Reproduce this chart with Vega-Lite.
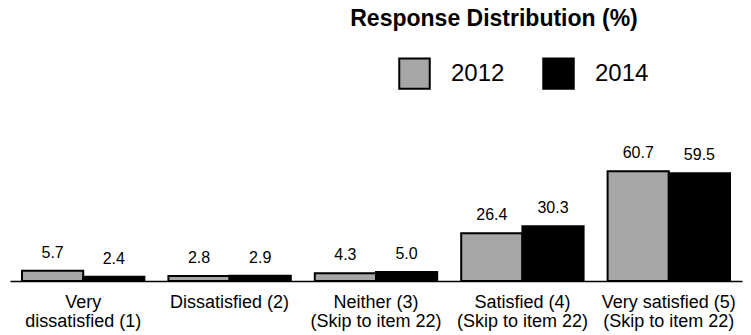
{
  "$schema": "https://vega.github.io/schema/vega-lite/v6.json",
  "width": 732,
  "height": 181,
  "autosize": {"type": "none"},
  "padding": {"left": 10, "top": 100, "right": 9, "bottom": 54},
  "background": "white",
  "title": {
    "text": "Response Distribution (%)",
    "font": "Liberation Sans",
    "fontSize": 23,
    "fontWeight": "bold",
    "color": "black",
    "anchor": "middle",
    "dx": 118,
    "offset": 26
  },
  "data": {
    "values": [
      {"cat": "Very|dissatisfied (1)", "year": "2012", "pct": 5.7},
      {"cat": "Very|dissatisfied (1)", "year": "2014", "pct": 2.4},
      {"cat": "Dissatisfied (2)", "year": "2012", "pct": 2.8},
      {"cat": "Dissatisfied (2)", "year": "2014", "pct": 2.9},
      {"cat": "Neither (3)|(Skip to item 22)", "year": "2012", "pct": 4.3},
      {"cat": "Neither (3)|(Skip to item 22)", "year": "2014", "pct": 5.0},
      {"cat": "Satisfied (4)|(Skip to item 22)", "year": "2012", "pct": 26.4},
      {"cat": "Satisfied (4)|(Skip to item 22)", "year": "2014", "pct": 30.3},
      {"cat": "Very satisfied (5)|(Skip to item 22)", "year": "2012", "pct": 60.7},
      {"cat": "Very satisfied (5)|(Skip to item 22)", "year": "2014", "pct": 59.5}
    ]
  },
  "encoding": {
    "x": {
      "field": "cat",
      "type": "nominal",
      "sort": null,
      "scale": {"paddingInner": 0.164, "paddingOuter": 0.082},
      "axis": {
        "title": null,
        "labelAngle": 0,
        "labelExpr": "split(datum.value, '|')",
        "labelFont": "Liberation Sans",
        "labelFontSize": 18,
        "labelColor": "black",
        "labelLineHeight": 19,
        "labelPadding": 12,
        "labelBaseline": "top",
        "labelOverlap": false,
        "labelBound": false,
        "ticks": false,
        "domainColor": "black",
        "domainWidth": 1.5,
        "grid": false
      }
    },
    "xOffset": {"field": "year", "type": "nominal", "scale": {"paddingInner": 0, "paddingOuter": 0}},
    "y": {
      "field": "pct",
      "type": "quantitative",
      "scale": {"domain": [0, 100]},
      "axis": null
    }
  },
  "layer": [
    {
      "mark": {"type": "bar", "stroke": "black", "strokeWidth": 2, "cornerRadius": 0},
      "encoding": {
        "color": {
          "field": "year",
          "type": "nominal",
          "scale": {"domain": ["2012", "2014"], "range": ["#A6A6A6", "#000000"]},
          "legend": {
            "title": null,
            "orient": "none",
            "legendX": 388,
            "legendY": -43,
            "direction": "horizontal",
            "symbolType": "square",
            "symbolSize": 930,
            "symbolStrokeColor": "black",
            "symbolStrokeWidth": 2,
            "labelFont": "Liberation Sans",
            "labelFontSize": 24,
            "labelColor": "black",
            "labelOffset": 20,
            "columnPadding": 34,
            "symbolOpacity": 1
          }
        }
      }
    },
    {
      "mark": {"type": "text", "baseline": "bottom", "dy": -10, "font": "Liberation Sans", "fontSize": 16, "color": "black"},
      "encoding": {
        "text": {"field": "pct", "type": "quantitative", "format": ".1f"}
      }
    }
  ],
  "config": {"view": {"stroke": null}}
}
